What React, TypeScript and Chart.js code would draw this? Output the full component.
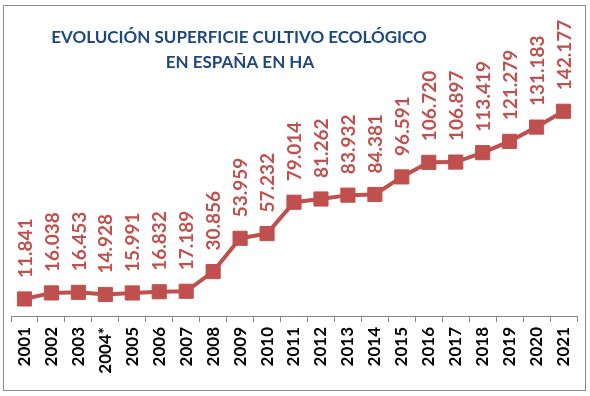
import React, { useEffect, useRef } from "react";
import { Chart, registerables } from "chart.js";

Chart.register(...registerables);

const years = [
  "2001", "2002", "2003", "2004*", "2005", "2006", "2007", "2008", "2009", "2010",
  "2011", "2012", "2013", "2014", "2015", "2016", "2017", "2018", "2019", "2020", "2021",
];
const hectares = [
  11841, 16038, 16453, 14928, 15991, 16832, 17189, 30856, 53959, 57232,
  79014, 81262, 83932, 84381, 96591, 106720, 106897, 113419, 121279, 131183, 142177,
];
const valueLabels = [
  "11.841", "16.038", "16.453", "14.928", "15.991", "16.832", "17.189", "30.856", "53.959", "57.232",
  "79.014", "81.262", "83.932", "84.381", "96.591", "106.720", "106.897", "113.419", "121.279", "131.183", "142.177",
];
const titleLines = ["EVOLUCIÓN SUPERFICIE CULTIVO ECOLÓGICO", "EN ESPAÑA EN HA"];

const RED = "#C0504D";
const BLUE = "#1F497D";

const framePlugin = {
  id: "frame",
  beforeDraw(chart: any) {
    const ctx = chart.ctx;
    ctx.save();
    ctx.fillStyle = "#ffffff";
    ctx.fillRect(0, 0, chart.width, chart.height);
    ctx.strokeStyle = "#8c8c8c";
    ctx.lineWidth = 1;
    ctx.strokeRect(3.5, 5.5, 582, 385);
    ctx.restore();
  },
  afterDatasetsDraw(chart: any) {
    const ctx = chart.ctx;
    const meta = chart.getDatasetMeta(0);
    ctx.save();
    ctx.fillStyle = RED;
    ctx.font = "bold 19px Lato";
    meta.data.forEach((pt: any, i: number) => {
      ctx.save();
      ctx.translate(pt.x + 1, pt.y - 21);
      ctx.rotate(-Math.PI / 2);
      ctx.textAlign = "left";
      ctx.textBaseline = "middle";
      ctx.fillText(valueLabels[i], 0, 0);
      ctx.restore();
    });
    ctx.fillStyle = BLUE;
    ctx.font = "bold 17px Lato";
    ctx.textAlign = "center";
    ctx.textBaseline = "alphabetic";
    ctx.fillText(titleLines[0], 239, 43);
    ctx.fillText(titleLines[1], 240, 68);
    ctx.restore();
  },
};

export default function App() {
  const ref = useRef<HTMLCanvasElement | null>(null);
  useEffect(() => {
    if (!ref.current) return;
    const chart = new Chart(ref.current, {
      type: "line",
      data: {
        labels: years,
        datasets: [
          {
            data: hectares,
            borderColor: RED,
            backgroundColor: RED,
            borderWidth: 4,
            pointStyle: "rect",
            pointRadius: 10,
            pointBorderWidth: 1,
            pointBackgroundColor: RED,
            pointBorderColor: RED,
            tension: 0,
          },
        ],
      },
      options: {
        responsive: false,
        animation: false,
        layout: { padding: { left: 5, right: 13, top: 28, bottom: 0 } },
        plugins: { legend: { display: false }, tooltip: { enabled: false }, title: { display: false } },
        scales: {
          x: {
            offset: true,
            afterFit: (s: any) => {
              s.height = 80;
            },
            grid: {
              display: true,
              offset: true,
              drawOnChartArea: false,
              drawTicks: true,
              tickLength: 6,
              color: "#868686",
            },
            border: { display: true, color: "#868686", width: 1 },
            ticks: {
              autoSkip: false,
              minRotation: 90,
              maxRotation: 90,
              padding: 5,
              color: "#000000",
              font: { family: "Lato", weight: "bold", size: 17 },
            },
          },
          y: {
            display: false,
            min: 0,
            max: 200000,
          },
        },
      },
      plugins: [framePlugin],
    });
    return () => chart.destroy();
  }, []);
  return (
    <div style={{ position: "absolute", left: 0, top: 0, width: 590, height: 396, background: "#fff" }}>
      <canvas ref={ref} width={590} height={396} />
    </div>
  );
}
